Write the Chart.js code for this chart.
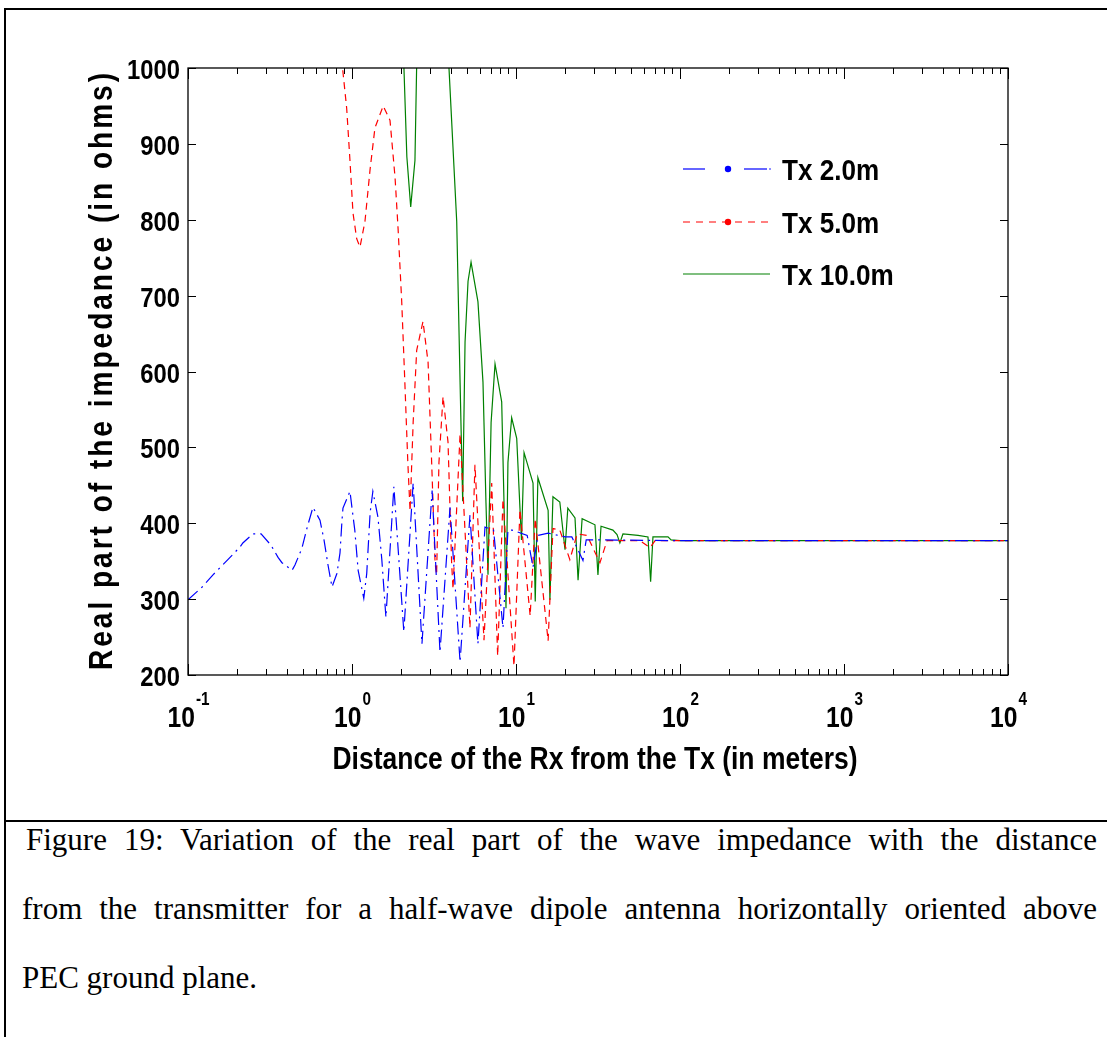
<!DOCTYPE html>
<html>
<head>
<meta charset="utf-8">
<script src="https://cdn.jsdelivr.net/npm/chart.js@4.4.1/dist/chart.umd.min.js"></script>
<style>
  html, body { margin: 0; padding: 0; background: #fff; }
  body { width: 1107px; height: 1037px; position: relative; overflow: hidden; }
  #frame { position: absolute; left: 4px; top: 8px; width: 1120px; height: 1050px; border-left: 2px solid #000; border-top: 2px solid #000; }
  #rule { position: absolute; left: 4px; top: 820px; width: 1120px; height: 2px; background: #000; }
  #wrap { position: absolute; left: 0; top: 0; }
  .cap { position: absolute; font: 31px "Liberation Serif", "Times New Roman", serif; line-height: 40px; color: #000; white-space: nowrap; }
  .just { text-align: justify; text-align-last: justify; white-space: normal; }
</style>
</head>
<body>
<div id="frame"></div>
<div id="rule"></div>
<div id="wrap"><canvas id="chart" width="1107" height="815"></canvas></div>
<div class="cap just" style="left:26px; top:820px; width:1071px;">Figure 19: Variation of the real part of the wave impedance with the distance</div>
<div class="cap just" style="left:22px; top:889px; width:1075px;">from the transmitter for a half-wave dipole antenna horizontally oriented above</div>
<div class="cap" style="left:22px; top:958px;">PEC ground plane.</div>
<script>
// distances in meters, real part of impedance in ohms
const tx2Dist = [0.1, 0.122, 0.142, 0.175, 0.208, 0.216, 0.249, 0.279, 0.321, 0.354, 0.374, 0.431, 0.449, 0.495, 0.532, 0.578,
  0.638, 0.675, 0.714, 0.755, 0.81, 0.845, 0.869, 0.881, 0.972, 1.0, 1.04, 1.09, 1.18, 1.23, 1.29, 1.34, 1.44, 1.52, 1.61,
  1.80, 2.07, 2.36, 2.67, 3.08, 3.44, 3.96, 4.56, 5.24, 5.86, 6.47, 7.3, 8.33, 8.93, 9.46, 11.7, 12.7, 13.6, 15.7, 20.0,
  21.9, 25.6, 26.8, 34.0, 100, 1000, 10000];
const tx2Real = [299, 316, 332, 352, 369, 374, 386, 386, 371, 355, 348, 338, 345, 367, 394, 421,
  404, 378, 345, 316, 334, 361, 404, 420, 442, 420, 391, 338, 301, 334, 414, 442, 408, 352, 276,
  448, 257, 453, 241, 443, 230, 421, 217, 411, 241, 395, 391, 262, 391, 391, 384, 342, 384, 387, 382,
  382, 351, 378, 378, 377, 377, 377];

const tx5Dist = [0.82, 0.928, 0.972, 1.014, 1.068, 1.119, 1.20, 1.29, 1.38, 1.55, 1.705, 1.83, 1.91, 2.01, 2.10, 2.19, 2.26,
  2.36, 2.48, 2.71, 2.91, 3.06, 3.21, 3.28, 3.39, 3.59, 3.85, 4.05, 4.13, 4.56, 5.24, 5.62, 6.38, 7.11, 7.73, 8.33, 9.72,
  10.57, 12.2, 13.1, 15.7, 16.8, 18.5, 21.3, 23.6, 27.1, 32.5, 35.9, 57.0, 65.6, 70.5, 100, 1000, 10000];
const tx5Real = [1060, 947, 878, 809, 775, 764, 798, 867, 921, 950, 931, 856, 788, 692, 586, 480, 416,
  533, 628, 666, 612, 480, 348, 332, 480, 567, 507, 348, 313, 518, 262, 477, 246, 453, 225, 432, 212,
  418, 278, 406, 245, 393, 391, 352, 386, 384, 348, 377, 377, 368, 377, 377, 377, 377];

const tx10Dist = [1.9, 2.16, 2.28, 2.42, 2.55, 3.0, 3.6, 4.05, 4.35, 4.56, 4.73, 4.89, 5.10, 5.32, 5.86, 6.29, 6.56, 6.75,
  7.05, 7.45, 8.18, 8.45, 8.69, 8.93, 9.41, 10.1, 10.57, 10.8, 11.2, 12.7, 13.1, 13.6, 15.7, 16.1, 16.8, 18.5, 19.9, 20.7,
  22.9, 23.9, 25.3, 30.3, 31.6, 33.0, 39.0, 41.3, 43.0, 44.9, 55.5, 63.8, 66.2, 68.4, 84.5, 88.2, 100, 1000, 10000];
const tx10Real = [1250, 883, 817, 878, 1150, 1400, 1150, 931, 798, 586, 429, 639, 719, 744, 692, 586, 427, 332,
  533, 610, 560, 427, 288, 480, 539, 512, 420, 378, 493, 453, 297, 460, 417, 299, 435, 428, 365, 420,
  407, 325, 406, 398, 332, 396, 391, 385, 374, 386, 384, 382, 323, 382, 382, 378, 377, 377, 377];

const seriesNames = ['Tx 2.0m', 'Tx 5.0m', 'Tx 10.0m'];
const decadeExps = [-1, 0, 1, 2, 3, 4];
const xTitle = 'Distance of the Rx from the Tx (in meters)';
const yTitle = 'Real part of the impedance (in ohms)';

const BLUE = '#0000ff', RED = '#ff0000', GREEN = '#008000';
const FONT = '"Liberation Sans", Arial, sans-serif';
const SX = 0.85; // the figure's lettering is horizontally squeezed

function pts(xs, ys) {
  return xs.map((x, i) => ({ x: x, y: ys[i] }));
}

function squeeze(ctx, text, x, y, size, align, sx) {
  sx = sx || SX;
  ctx.font = 'bold ' + size + 'px ' + FONT;
  const w = ctx.measureText(text).width * sx;
  let x0 = x;
  if (align === 'center') x0 = x - w / 2;
  else if (align === 'right') x0 = x - w;
  ctx.save();
  ctx.translate(x0, y);
  ctx.scale(sx, 1);
  ctx.textAlign = 'left';
  ctx.textBaseline = 'alphabetic';
  ctx.fillText(text, 0, 0);
  ctx.restore();
  return w;
}

function line(ctx, x1, y1, x2, y2) {
  ctx.beginPath();
  ctx.moveTo(x1, y1);
  ctx.lineTo(x2, y2);
  ctx.stroke();
}

function dot(ctx, x, y, r, color) {
  ctx.fillStyle = color;
  ctx.beginPath();
  ctx.arc(x, y, r, 0, Math.PI * 2);
  ctx.fill();
}

const matlabFrame = {
  id: 'matlabFrame',
  afterDraw(chart) {
    const ctx = chart.ctx;
    const a = chart.chartArea;
    const xs = chart.scales.x, ys = chart.scales.y;
    ctx.save();
    ctx.fillStyle = '#000';
    ctx.strokeStyle = '#000';
    ctx.lineWidth = 1.3;
    ctx.strokeRect(a.left, a.top, a.right - a.left, a.bottom - a.top);

    // inward ticks, MATLAB style
    ctx.lineWidth = 1;
    ys.ticks.forEach(t => {
      const py = Math.round(ys.getPixelForValue(t.value)) + 0.5;
      line(ctx, a.left, py, a.left + 8, py);
      line(ctx, a.right, py, a.right - 8, py);
      squeeze(ctx, String(t.value), a.left - 8, py + 10, 28, 'right');
    });
    decadeExps.forEach(e => {
      const px = Math.round(xs.getPixelForValue(Math.pow(10, e))) + 0.5;
      line(ctx, px, a.bottom, px, a.bottom - 11);
      line(ctx, px, a.top, px, a.top + 11);
      if (e < decadeExps[decadeExps.length - 1]) {
        for (let k = 2; k <= 9; k++) {
          const mx = Math.round(xs.getPixelForValue(k * Math.pow(10, e))) + 0.5;
          line(ctx, mx, a.bottom, mx, a.bottom - 6);
          line(ctx, mx, a.top, mx, a.top + 6);
        }
      }
      // "10" with raised exponent, centred on the tick
      ctx.font = 'bold 29px ' + FONT;
      const wb = ctx.measureText('10').width * SX;
      ctx.font = 'bold 18px ' + FONT;
      const we = ctx.measureText(String(e)).width * SX;
      const x0 = px - (wb + 1 + we) / 2;
      squeeze(ctx, '10', x0, 727, 29, 'left');
      squeeze(ctx, String(e), x0 + wb + 1, 705, 18, 'left');
    });

    // axis titles
    ctx.font = 'bold 31px ' + FONT;
    const xsx = 525 / ctx.measureText(xTitle).width;
    squeeze(ctx, xTitle, 595, 769, 31, 'center', xsx);
    ctx.save();
    ctx.translate(112, (a.top + a.bottom) / 2);
    ctx.rotate(-Math.PI / 2);
    ctx.font = 'bold 33px ' + FONT;
    const chars = yTitle.split('');
    const cw = chars.map(c => ctx.measureText(c).width * SX);
    const total = 597;
    const gap = (total - cw.reduce((s, w) => s + w, 0)) / (chars.length - 1);
    let cx = -total / 2;
    chars.forEach((c, i) => {
      ctx.save();
      ctx.translate(cx, 0);
      ctx.scale(SX, 1);
      ctx.fillText(c, 0, 0);
      ctx.restore();
      cx += cw[i] + gap;
    });
    ctx.restore();

    // legend
    const lx0 = 683, lx1 = 770, lxm = 728;
    const rows = [169, 222, 274];
    ctx.lineWidth = 1.2;
    ctx.strokeStyle = BLUE;
    line(ctx, lx0, rows[0], 705, rows[0]);
    line(ctx, 744, rows[0], 767, rows[0]);
    dot(ctx, 770, rows[0], 0.8, BLUE);
    dot(ctx, lxm, rows[0], 3.2, BLUE);
    ctx.strokeStyle = RED;
    ctx.setLineDash([7, 6]);
    line(ctx, lx0, rows[1], lx1, rows[1]);
    ctx.setLineDash([]);
    dot(ctx, lxm, rows[1], 3.2, RED);
    ctx.strokeStyle = GREEN;
    line(ctx, lx0, rows[2], lx1, rows[2]);
    ctx.fillStyle = '#000';
    seriesNames.forEach((n, i) => squeeze(ctx, n, 782, rows[i] + 11, 30, 'left', 0.87));
    ctx.restore();
  }
};

new Chart(document.getElementById('chart'), {
  type: 'line',
  data: {
    datasets: [
      { label: seriesNames[0], data: pts(tx2Dist, tx2Real), borderColor: BLUE, borderWidth: 1.2,
        borderDash: [13, 5, 2, 5], pointRadius: 0, tension: 0, order: 1 },
      { label: seriesNames[1], data: pts(tx5Dist, tx5Real), borderColor: RED, borderWidth: 1.2,
        borderDash: [7, 5], pointRadius: 0, tension: 0, order: 2 },
      { label: seriesNames[2], data: pts(tx10Dist, tx10Real), borderColor: GREEN, borderWidth: 1.2,
        pointRadius: 0, tension: 0, order: 3 }
    ]
  },
  options: {
    responsive: false,
    animation: false,
    devicePixelRatio: 1,
    layout: { padding: { left: 188, top: 68, right: 99, bottom: 140 } },
    plugins: { legend: { display: false }, tooltip: { enabled: false } },
    scales: {
      x: {
        type: 'logarithmic', min: 0.1, max: 10000,
        grid: { display: false }, border: { display: false },
        ticks: { display: false },
        afterFit: s => { s.height = 0; }
      },
      y: {
        type: 'linear', min: 200, max: 1000,
        grid: { display: false }, border: { display: false },
        ticks: { display: false, stepSize: 100 },
        afterFit: s => { s.width = 0; }
      }
    }
  },
  plugins: [matlabFrame]
});
</script>
</body>
</html>
